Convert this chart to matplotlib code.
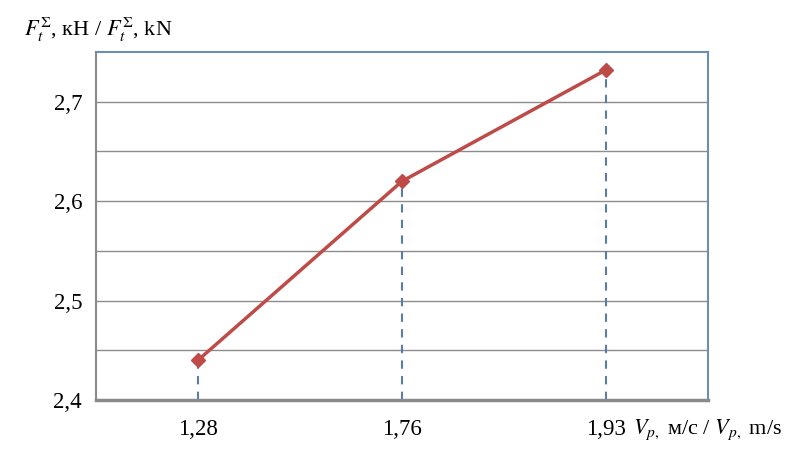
import matplotlib
matplotlib.use('Agg')
import matplotlib.pyplot as plt

plt.rcParams['font.family'] = ['Liberation Serif', 'DejaVu Serif']
plt.rcParams['mathtext.fontset'] = 'stix'

categories = ['1,28', '1,76', '1,93']
force = [2.44, 2.62, 2.732]
yticks = [2.4, 2.5, 2.6, 2.7]
ytick_labels = ['2,4', '2,5', '2,6', '2,7']

fig = plt.figure(figsize=(8.07, 4.65), dpi=100)
ax = fig.add_axes([96/807, 65/465, 612/807, 348/465])

x = list(range(len(categories)))
ax.set_xlim(-0.5, len(categories) - 0.5)
ax.set_ylim(2.4, 2.75)

# grid every 0.05
for g in [2.45, 2.5, 2.55, 2.6, 2.65, 2.7]:
    ax.axhline(g, color='#8c8c8c', lw=1.0, zorder=1)

# drop lines
ax.vlines(x, 2.4, force, colors='#5a7ea3', linestyles=(0, (4, 3.5)), lw=1.5, zorder=2)

ax.plot(x, force, color='#be4b48', lw=2.5, marker='D', ms=7.5,
        mfc='#be4b48', mec='#be4b48', zorder=3)

ax.set_xticks(x)
ax.set_xticklabels(categories, fontsize=16.5)
ax.set_yticks(yticks)
ax.set_yticklabels(ytick_labels, fontsize=16.5)
ax.tick_params(axis='y', length=0, pad=10)
ax.tick_params(axis='x', length=0, pad=14)

for s in ['top', 'right']:
    ax.spines[s].set_color('#6b8fb3')
    ax.spines[s].set_linewidth(1.5)
ax.spines['left'].set_color('#8a8a8a')
ax.spines['left'].set_linewidth(1.5)
ax.spines['bottom'].set_color('#8a8a8a')
ax.spines['bottom'].set_linewidth(2.5)

fig.text(633/807, 1 - 430/465, r'$V_{p,}$ м/с / $V_{p,}$ m/s', fontsize=16, va='center', ha='left')
fig.text(24/807, 1 - 30/465, r'$F_t^{\Sigma}$, кН / $F_t^{\Sigma}$, kN', fontsize=16, va='center', ha='left')

fig.savefig('out.png', dpi=100)
plt.close(fig)
